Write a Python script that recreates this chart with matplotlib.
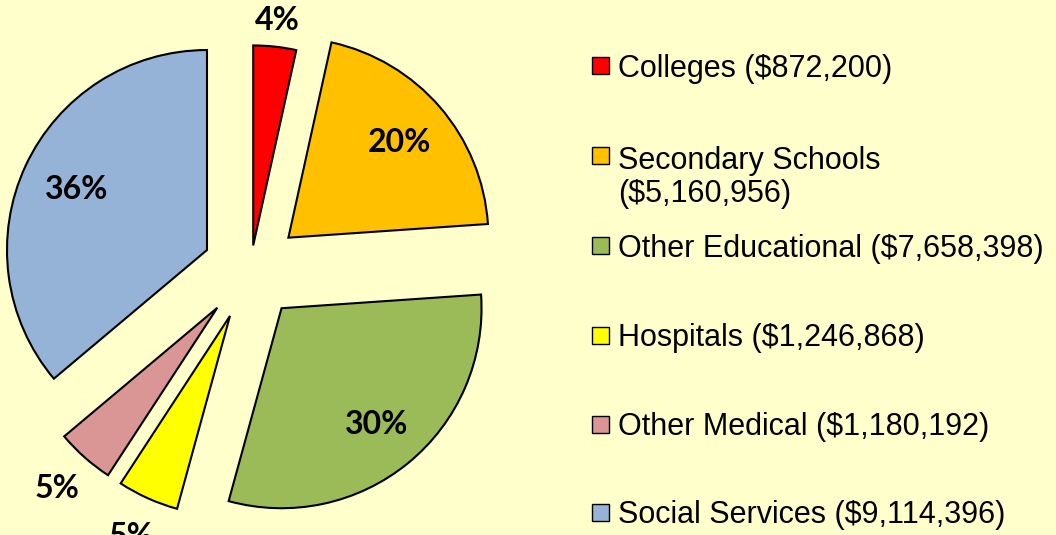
import numpy as np
import matplotlib
matplotlib.use('Agg')
import matplotlib.pyplot as plt
from matplotlib.patches import Rectangle

categories = ['Colleges', 'Secondary Schools', 'Other Educational',
              'Hospitals', 'Other Medical', 'Social Services']
amounts = [872200, 5160956, 7658398, 1246868, 1180192, 9114396]
pct_labels = ['4%', '20%', '30%', '5%', '5%', '36%']
colors = ['#FF0000', '#FFC000', '#9BBB59', '#FFFF00', '#D99694', '#95B3D7']
explode = [0.125, 0.25, 0.245, 0.25, 0.25, 0.24]

W, H, R = 1056, 535, 200.0

def px(x, y):
    # pixel position (y down) -> data units (1 unit = pie radius)
    return x / R, (H - y) / R

fig = plt.figure(figsize=(W / 100, H / 100), dpi=100)
fig.patch.set_facecolor('#FFFFCC')
ax = fig.add_axes([0, 0, 1, 1])

wedges, _ = ax.pie(amounts, colors=colors, explode=explode, startangle=90,
                   counterclock=False, radius=1, center=px(250.5, 270.3),
                   wedgeprops=dict(edgecolor='black', linewidth=1.5))
ax.set_xlim(0, W / R)
ax.set_ylim(0, H / R)
ax.set_aspect('equal')
ax.axis('off')

# percent labels
label_dist = [1.13, 0.73, 0.75, 1.21, 1.21, 0.72]
for w, lab, d in zip(wedges, pct_labels, label_dist):
    ang = np.deg2rad((w.theta1 + w.theta2) / 2)
    cx, cy = w.center
    ax.text(cx + d * w.r * np.cos(ang), cy + d * w.r * np.sin(ang), lab,
            ha='center', va='center', fontsize=23, fontweight='bold',
            family='Lato')

# legend on the right
legend_labels = [f'{c} (\\${a:,})' for c, a in zip(categories, amounts)]
legend_labels[1] = legend_labels[1].replace(' (', '\n(')
row_y = [66, 156, 246, 335, 424, 512]
for lab, col, y in zip(legend_labels, colors, row_y):
    x0, y0 = px(592, y + 8.5)
    ax.add_patch(Rectangle((x0, y0), 17 / R, 17 / R, facecolor=col,
                           edgecolor='black', linewidth=1, clip_on=False))
    extra = lab.count('\n') * 35
    tx, ty = px(618, y + 11 + extra)
    ax.text(tx, ty, lab, ha='left', va='baseline', fontsize=22,
            family='Liberation Sans', linespacing=1.15)

fig.savefig('out.png', dpi=100, facecolor=fig.get_facecolor())
